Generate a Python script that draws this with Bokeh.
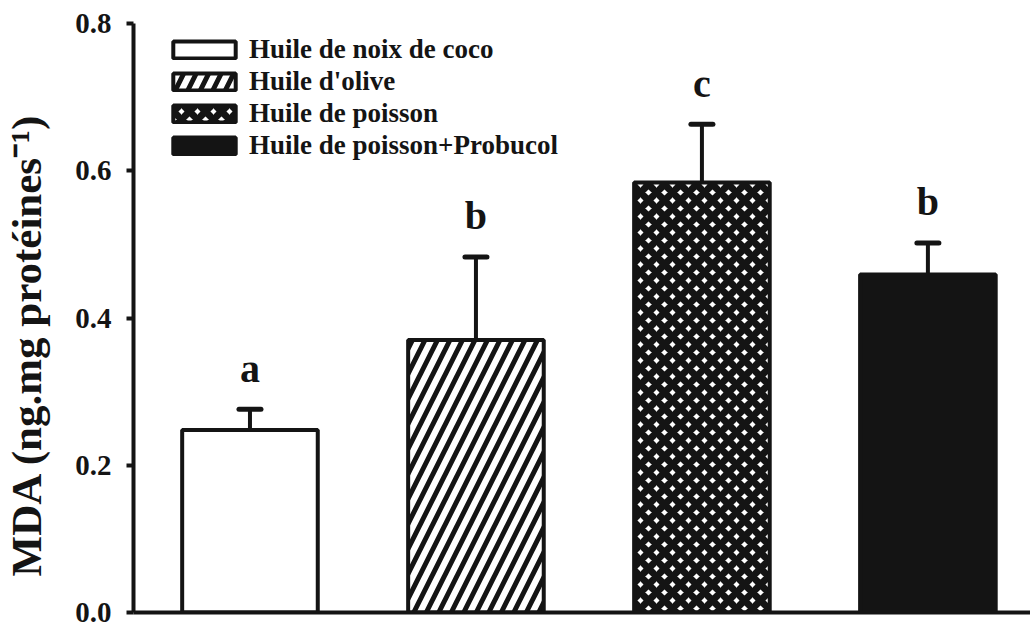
from bokeh.plotting import figure
from bokeh.models import (ColumnDataSource, FixedTicker, Whisker, TeeHead, Legend,
                          LegendItem, Range1d, PrintfTickFormatter)
from bokeh.core.properties import value
from bokeh.embed import file_html
from bokeh.resources import INLINE

# ---- data ----
groups = ["Huile de noix de coco", "Huile d'olive", "Huile de poisson", "Huile de poisson+Probucol"]
mda_mean = [0.248, 0.370, 0.584, 0.459]
mda_err = [0.028, 0.113, 0.079, 0.043]
sig_letters = ["a", "b", "c", "b"]
y_ticks = [0.0, 0.2, 0.4, 0.6, 0.8]

INK = "#141414"
FONT = "Liberation Serif"

xpos = [i + 1 for i in range(len(groups))]
upper = [m + e for m, e in zip(mda_mean, mda_err)]

p = figure(width=1030, height=625, output_backend="svg", toolbar_location=None,
           x_range=Range1d(0.4846, 4.454), y_range=Range1d(0, 0.8),
           min_border_left=129, min_border_top=23, min_border_bottom=13, min_border_right=0)
p.outline_line_color = None
p.xgrid.visible = False
p.ygrid.visible = False
p.background_fill_color = "white"

styles = [
    dict(fill_color="white", hatch_pattern=None),
    dict(fill_color="white", hatch_pattern="/", hatch_scale=25, hatch_weight=5, hatch_color=INK),
    dict(fill_color="white", hatch_pattern="x", hatch_scale=16, hatch_weight=7, hatch_color=INK),
    dict(fill_color=INK, hatch_pattern=None),
]

items = []
for i, g in enumerate(groups):
    src = ColumnDataSource(dict(x=[xpos[i]], top=[mda_mean[i]]))
    kw = {k: v for k, v in styles[i].items() if v is not None}
    r = p.vbar(x="x", top="top", bottom=0, width=0.6, source=src,
               line_color=INK, line_width=4, **kw)
    items.append(LegendItem(label=g, renderers=[r]))

err_src = ColumnDataSource(dict(x=xpos, lower=mda_mean, upper=upper, letter=sig_letters))
wh = Whisker(source=err_src, base="x", lower="lower", upper="upper", dimension="height",
             line_color=INK, line_width=4, lower_head=None,
             upper_head=TeeHead(size=22, line_width=5, line_color=INK, line_cap="round"))
p.add_layout(wh)

p.text(x="x", y="upper", text="letter", source=err_src, y_offset=-41,
       text_align="center", text_baseline="alphabetic",
       text_font=value(FONT), text_font_style="bold", text_font_size="40px", text_color=INK)

legend = Legend(items=items, location=(32, 589 - 14 - 129 + 5))
legend.border_line_color = None
legend.background_fill_alpha = 0
legend.padding = 0
legend.margin = 0
legend.spacing = 1
legend.glyph_width = 78
legend.glyph_height = 21
legend.label_height = 27
legend.label_standoff = 6
legend.label_text_font = FONT
legend.label_text_font_style = "bold"
legend.label_text_font_size = "27px"
legend.label_text_color = INK
p.add_layout(legend, "center")

# y axis
yax = p.yaxis[0]
yax.ticker = FixedTicker(ticks=y_ticks)
yax.formatter = PrintfTickFormatter(format="%.1f")
yax.minor_tick_line_color = None
yax.major_tick_in = 0
yax.major_tick_out = 7
yax.major_tick_line_width = 4
yax.major_tick_line_color = INK
yax.axis_line_width = 4
yax.axis_line_color = INK
yax.major_label_standoff = 15
yax.major_label_text_font = FONT
yax.major_label_text_font_style = "bold"
yax.major_label_text_font_size = "29px"
yax.major_label_text_color = INK
yax.axis_label = "MDA (ng.mg protéines⁻¹)\u00a0\u00a0\u00a0\u00a0\u00a0"
yax.axis_label_text_font = FONT
yax.axis_label_text_font_style = "bold"
yax.axis_label_text_font_size = "43px"
yax.axis_label_text_color = INK
yax.axis_label_standoff = 22

# x axis: line only
xax = p.xaxis[0]
xax.ticker = FixedTicker(ticks=[])
xax.minor_tick_line_color = None
xax.major_tick_out = 0
xax.major_tick_in = 0
xax.major_label_standoff = 0
xax.axis_line_width = 4
xax.axis_line_color = INK

open("out.html", "w").write(file_html(p, INLINE))
